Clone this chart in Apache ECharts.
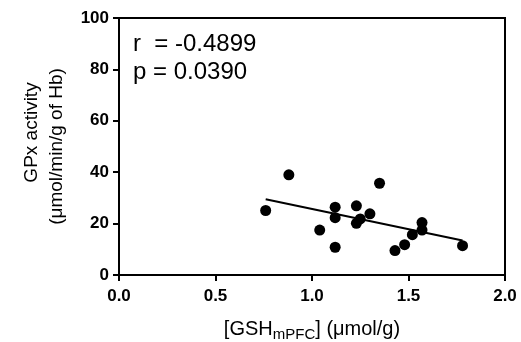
<!DOCTYPE html>
<html>
<head>
<meta charset="utf-8">
<script src="https://cdn.jsdelivr.net/npm/echarts@6/dist/echarts.min.js"></script>
<style>html,body{margin:0;padding:0;background:#fff}#c{width:521px;height:342px}</style>
</head>
<body>
<div id="c"></div>
<script>
const gshValues = [0.76, 0.88, 1.04, 1.12, 1.12, 1.12, 1.23, 1.23, 1.25, 1.30, 1.35, 1.43, 1.48, 1.52, 1.57, 1.57, 1.78];
const gpxValues = [25.1, 39.0, 17.5, 26.4, 22.3, 10.8, 26.9, 20.1, 21.8, 23.8, 35.7, 9.5, 11.8, 15.7, 20.4, 17.5, 11.4];
const fitX = [0.76, 1.78];
const fitY = [29.5, 13.4];
const xTicks = [0, 0.5, 1.0, 1.5, 2.0];
const yTicks = [0, 20, 40, 60, 80, 100];
const statR = 'r  = -0.4899';
const statP = 'p = 0.0390';

const chart = echarts.init(document.getElementById('c'), null, {renderer: 'canvas'});
const font = '"Liberation Sans", Arial, sans-serif';
chart.setOption({
  animation: false,
  backgroundColor: '#fff',
  grid: {left: 119, right: 16, top: 18, bottom: 67, show: true, borderColor: '#000', borderWidth: 2,
    containLabel: false, outerBoundsMode: 'none'},
  xAxis: {
    type: 'value', min: 0, max: 2, interval: 0.5,
    axisLine: {lineStyle: {color: '#000', width: 2}},
    axisTick: {length: 6, lineStyle: {color: '#000', width: 2}},
    splitLine: {show: false},
    axisLabel: {color: '#000', fontFamily: font, fontWeight: 'bold', fontSize: 17, margin: 13,
      formatter: v => v.toFixed(1)},
    name: '{m|[GSH}{sub|mPFC}{m|] (μmol/g)}',
    nameLocation: 'middle', nameGap: 42,
    nameTextStyle: {color: '#000', fontFamily: font, fontSize: 20,
      rich: {
        m: {fontSize: 20, fontFamily: font, color: '#000'},
        sub: {fontSize: 15, fontFamily: font, color: '#000', padding: [10, 0, 0, 0]}
      }}
  },
  yAxis: {
    type: 'value', min: 0, max: 100, interval: 20,
    axisLine: {lineStyle: {color: '#000', width: 2}},
    axisTick: {length: 6, lineStyle: {color: '#000', width: 2}},
    splitLine: {show: false},
    axisLabel: {color: '#000', fontFamily: font, fontWeight: 'bold', fontSize: 17, margin: 10},
    name: '{a|GPx activity}\n{b|(μmol/min/g of Hb)}',
    nameLocation: 'middle', nameGap: 50,
    nameTextStyle: {color: '#000', fontFamily: font, fontSize: 19, lineHeight: 25,
      rich: {
        a: {fontSize: 19, fontFamily: font, color: '#000', lineHeight: 25, padding: [0, 0, 0, 28]},
        b: {fontSize: 19, fontFamily: font, color: '#000', lineHeight: 25}
      }}
  },
  series: [
    {type: 'scatter', data: gshValues.map((x, i) => [x, gpxValues[i]]), symbol: 'circle', symbolSize: 11,
      itemStyle: {color: '#000', opacity: 1}, z: 3},
    {type: 'line', data: fitX.map((x, i) => [x, fitY[i]]), symbol: 'none',
      lineStyle: {color: '#000', width: 2}, z: 2}
  ],
  graphic: [
    {type: 'text', left: 133, top: 32, style: {text: statR, font: '24px ' + font, fill: '#000'}},
    {type: 'text', left: 133, top: 60, style: {text: statP, font: '24px ' + font, fill: '#000'}}
  ]
});
</script>
</body>
</html>
